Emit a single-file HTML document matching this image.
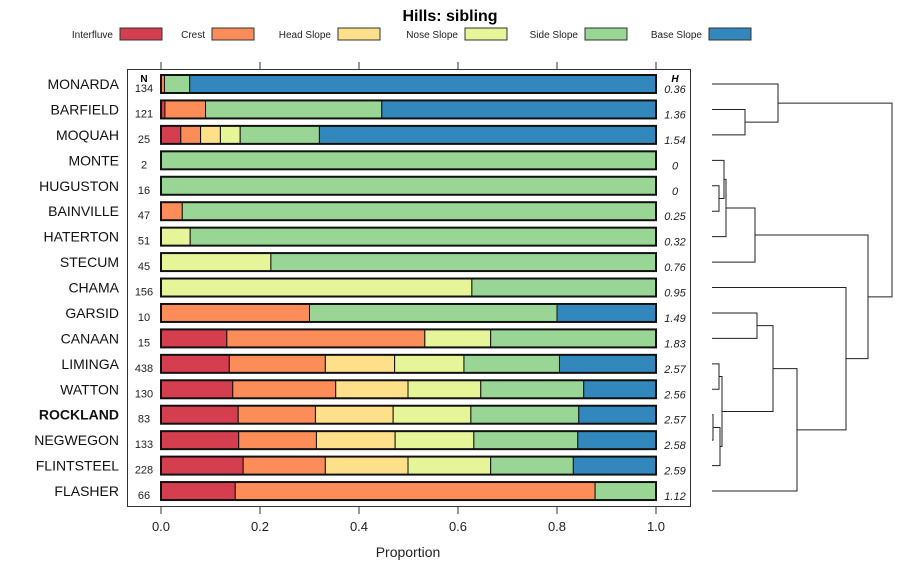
<!DOCTYPE html>
<html><head><meta charset="utf-8">
<style>
body{margin:0;background:#fff;}
svg text{font-family:"Liberation Sans",sans-serif;}
</style></head>
<body>
<svg id="c" width="900" height="580" xmlns="http://www.w3.org/2000/svg"></svg>
<script>
const categories=["MONARDA","BARFIELD","MOQUAH","MONTE","HUGUSTON","BAINVILLE","HATERTON","STECUM","CHAMA","GARSID","CANAAN","LIMINGA","WATTON","ROCKLAND","NEGWEGON","FLINTSTEEL","FLASHER"];
const seriesNames=["Interfluve","Crest","Head Slope","Nose Slope","Side Slope","Base Slope"];
const interfluve=[0,0.008,0.04,0,0,0,0,0,0,0,0.133,0.138,0.145,0.156,0.157,0.166,0.15];
const crest=[0.007,0.082,0.04,0,0,0.043,0,0,0,0.3,0.4,0.194,0.208,0.156,0.157,0.166,0.727];
const headSlope=[0,0,0.04,0,0,0,0,0,0,0,0,0.14,0.146,0.157,0.159,0.167,0];
const noseSlope=[0,0,0.04,0,0,0,0.059,0.222,0.628,0,0.133,0.14,0.147,0.157,0.159,0.167,0];
const sideSlope=[0.051,0.356,0.16,1,1,0.957,0.941,0.778,0.372,0.5,0.334,0.193,0.208,0.218,0.21,0.167,0.123];
const baseSlope=[0.942,0.554,0.68,0,0,0,0,0,0,0.2,0,0.195,0.146,0.156,0.158,0.167,0];
const nValues=[134,121,25,2,16,47,51,45,156,10,15,438,130,83,133,228,66];
const hValues=["0.36","1.36","1.54","0","0","0.25","0.32","0.76","0.95","1.49","1.83","2.57","2.56","2.57","2.58","2.59","1.12"];
const xTicks=[0,0.2,0.4,0.6,0.8,1.0];
const xTickLabels=["0.0","0.2","0.4","0.6","0.8","1.0"];
const colors=["#D53E4F","#FC8D59","#FEE08B","#E6F598","#99D594","#3288BD"];
// dendrogram merges: [leftNode, rightNode, height]; leaves 0..16, merged nodes 17+
const merges=[[1,2,745],[0,17,778],[4,5,719],[3,19,724],[20,6,726],[21,7,755],[9,10,757],[11,12,719],[13,14,713],[25,15,720],[24,26,722],[23,27,773],[28,16,797],[8,29,846],[22,30,868],[18,31,892]];

const svg=document.getElementById('c');
const NS="http://www.w3.org/2000/svg";
function mk(t,a,p){const e=document.createElementNS(NS,t);for(const k in a)e.setAttribute(k,a[k]);(p||svg).appendChild(e);return e;}
const x=v=>161+v*495;
const y=i=>84+i*25.44;
const series=[interfluve,crest,headSlope,noseSlope,sideSlope,baseSlope];

let t=mk('text',{x:450,y:21,'text-anchor':'middle','font-size':16,'font-weight':'bold'});t.textContent="Hills: sibling";



// legend
const legX=[120,212,338,465,585,709];
seriesNames.forEach((n,k)=>{
  const g=mk('g',{});
  
  
  const tt=mk('text',{x:legX[k]-7,y:38,'text-anchor':'end','font-size':10,fill:'#222'},g);tt.textContent=n;
  mk('rect',{x:legX[k],y:28,width:42,height:12,fill:colors[k],stroke:'#333','stroke-width':1},g);
});

// panel
const panel=mk('rect',{x:127.5,y:69.5,width:563,height:437,fill:'none',stroke:'#333'});


xTicks.forEach((v,k)=>{
  mk('line',{x1:x(v),x2:x(v),y1:62,y2:69,stroke:'#333'});
  mk('line',{x1:x(v),x2:x(v),y1:507,y2:514,stroke:'#333'});
  const l=mk('text',{x:x(v),y:531,'text-anchor':'middle','font-size':13,fill:'#222'});l.textContent=xTickLabels[k];
  
  
});
t=mk('text',{x:408,y:557,'text-anchor':'middle','font-size':14,fill:'#222'});t.textContent="Proportion";


t=mk('text',{x:144,y:82,'text-anchor':'middle','font-size':10,'font-weight':'bold'});t.textContent="N";
t=mk('text',{x:675,y:82,'text-anchor':'middle','font-size':10,'font-weight':'bold','font-style':'italic'});t.textContent="H";

categories.forEach((c,i)=>{
  const cy=y(i);
  const lab=mk('text',{x:119,y:cy+5,'text-anchor':'end','font-size':14,fill:'#111','font-weight':c==="ROCKLAND"?'bold':'normal'});lab.textContent=c;
  
  
  const nl=mk('text',{x:144,y:cy+8,'text-anchor':'middle','font-size':11,fill:'#222'});nl.textContent=nValues[i];
  
  
  const hl=mk('text',{x:675,y:cy+9,'text-anchor':'middle','font-size':11,'font-style':'italic',fill:'#222'});hl.textContent=hValues[i];
  
  
  let cum=0;
  series.forEach((s,k)=>{
    const v=s[i];
    if(v>0){
      const r=mk('rect',{x:x(cum),y:cy-9,width:x(cum+v)-x(cum),height:18,fill:colors[k],stroke:'#111','stroke-width':1});
      
      
    }
    cum+=v;
  });
  mk('rect',{x:x(0),y:cy-9,width:x(1)-x(0),height:18,fill:'none',stroke:'#111','stroke-width':2});
});

// dendrogram
const nodeY=categories.map((c,i)=>y(i));
const nodeX=categories.map(()=>712);
const dg=mk('g',{fill:'none',stroke:'#222','stroke-width':1});


merges.forEach(m=>{
  const [a,b,h]=m;
  mk('path',{d:`M${nodeX[a]},${nodeY[a]}H${h}V${nodeY[b]}H${nodeX[b]}`},dg);
  nodeY.push((nodeY[a]+nodeY[b])/2);nodeX.push(h);
});
</script>
</body></html>
